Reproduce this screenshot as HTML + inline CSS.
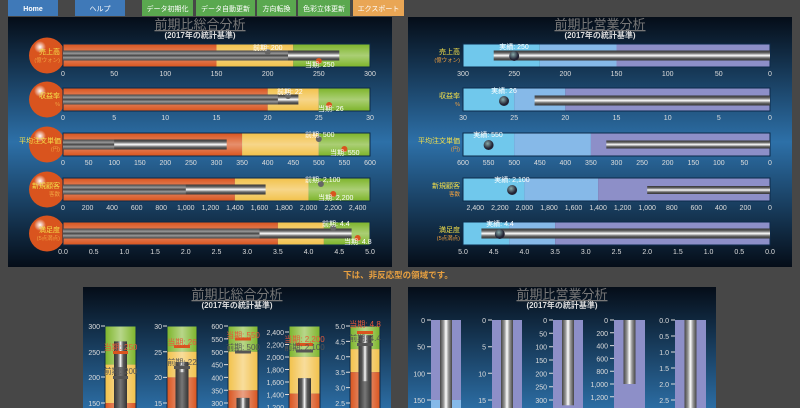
<!DOCTYPE html>
<html><head><meta charset="utf-8"><style>
html,body{margin:0;padding:0;background:#474747;width:800px;height:408px;overflow:hidden}
svg{display:block;font-family:"Liberation Sans","Noto Sans CJK JP",sans-serif}
</style></head><body>
<svg width="800" height="408" viewBox="0 0 800 408" xmlns="http://www.w3.org/2000/svg">
<defs>
<linearGradient id="pg" x1="0" y1="0" x2="0" y2="1"><stop offset="0" stop-color="#050d18"/><stop offset="0.5" stop-color="#2d70a8"/><stop offset="1" stop-color="#050d18"/></linearGradient>
<linearGradient id="pg2" gradientUnits="userSpaceOnUse" x1="0" y1="287" x2="0" y2="537"><stop offset="0" stop-color="#050d18"/><stop offset="0.5" stop-color="#2d70a8"/><stop offset="1" stop-color="#050d18"/></linearGradient>
<linearGradient id="gl" x1="0" y1="0" x2="0" y2="1"><stop offset="0" stop-color="#fff" stop-opacity="0"/><stop offset="0.5" stop-color="#fff" stop-opacity="0.35"/><stop offset="1" stop-color="#fff" stop-opacity="0"/></linearGradient>
<linearGradient id="glv" x1="0" y1="0" x2="1" y2="0"><stop offset="0" stop-color="#fff" stop-opacity="0"/><stop offset="0.5" stop-color="#fff" stop-opacity="0.45"/><stop offset="1" stop-color="#fff" stop-opacity="0"/></linearGradient>
<linearGradient id="td" x1="0" y1="0" x2="0" y2="1"><stop offset="0" stop-color="#444"/><stop offset="0.3" stop-color="#999"/><stop offset="0.5" stop-color="#444"/><stop offset="0.7" stop-color="#999"/><stop offset="1" stop-color="#444"/></linearGradient>
<linearGradient id="tw" x1="0" y1="0" x2="0" y2="1"><stop offset="0" stop-color="#333"/><stop offset="0.25" stop-color="#666"/><stop offset="0.5" stop-color="#fff"/><stop offset="0.75" stop-color="#666"/><stop offset="1" stop-color="#333"/></linearGradient>
<linearGradient id="tdv" x1="0" y1="0" x2="1" y2="0"><stop offset="0" stop-color="#333"/><stop offset="0.5" stop-color="#777"/><stop offset="1" stop-color="#333"/></linearGradient>
<linearGradient id="twv" x1="0" y1="0" x2="1" y2="0"><stop offset="0" stop-color="#444"/><stop offset="0.3" stop-color="#999"/><stop offset="0.5" stop-color="#fff"/><stop offset="0.7" stop-color="#999"/><stop offset="1" stop-color="#444"/></linearGradient>
<radialGradient id="hl"><stop offset="0" stop-color="#fff"/><stop offset="1" stop-color="#fff" stop-opacity="0"/></radialGradient>
<radialGradient id="ball" cx="0.4" cy="0.35"><stop offset="0" stop-color="#8aa"/><stop offset="1" stop-color="#223"/></radialGradient>
</defs>

<g font-size="7" fill="#fff" text-anchor="middle">
<rect x="8" y="0" width="50" height="16" fill="#3f79b8"/><text x="33" y="11" font-weight="bold">Home</text>
<rect x="75" y="0" width="50" height="16" fill="#3f79b8"/><text x="100" y="11">ヘルプ</text>
<rect x="142" y="0" width="51" height="16" fill="#5aa84f"/><text x="167.5" y="11">データ初期化</text>
<rect x="196" y="0" width="59" height="16" fill="#5aa84f"/><text x="225.5" y="11">データ自動更新</text>
<rect x="257" y="0" width="39" height="16" fill="#5aa84f"/><text x="276.5" y="11">方向転換</text>
<rect x="298" y="0" width="52" height="16" fill="#5aa84f"/><text x="324" y="11">色彩立体更新</text>
<rect x="353" y="0" width="51" height="16" fill="#e9a655"/><text x="378.5" y="11">エクスポート</text>
</g>

<rect x="8" y="17" width="384" height="250" fill="url(#pg)"/>
<rect x="408" y="17" width="384" height="250" fill="url(#pg)"/>
<rect x="83" y="287" width="308" height="121" fill="url(#pg2)"/>
<rect x="408" y="287" width="308" height="121" fill="url(#pg2)"/>

<g font-size="13" fill="#777" text-anchor="middle" text-decoration="underline">
<text x="200" y="29">前期比総合分析</text><text x="600" y="29">前期比営業分析</text>
<text x="237" y="299">前期比総合分析</text><text x="562" y="299">前期比営業分析</text></g>
<g font-size="8" fill="#ddd" text-anchor="middle" font-weight="bold">
<text x="200" y="38">(2017年の統計基準)</text><text x="600" y="38">(2017年の統計基準)</text>
<text x="237" y="308">(2017年の統計基準)</text><text x="562" y="308">(2017年の統計基準)</text></g>
<text x="398" y="278" font-size="8.5" fill="#e8a040" text-anchor="middle" font-weight="bold">下は、非反応型の領域です。</text>

<g font-size="7" fill="#ddd">
<g transform="translate(0,44)">
<circle cx="47" cy="11.5" r="18" fill="#d9541e"/><circle cx="40" cy="3" r="6" fill="url(#hl)"/>
<rect x="63" y="0" width="153.5" height="23" fill="#d9541e"/><rect x="216.5" y="0" width="76.8" height="23" fill="#f2c14a"/><rect x="293.3" y="0" width="76.7" height="23" fill="#7db52a"/>
<rect x="63" y="0" width="307" height="23" fill="url(#gl)" stroke="#0c2a4a" stroke-width="1"/>
<rect x="63" y="6.5" width="225" height="10" fill="url(#td)"/><rect x="288" y="6.5" width="51.3" height="10" fill="url(#tw)"/>
<circle cx="267.7" cy="8" r="3" fill="#666"/><text x="253" y="6" fill="#fff">前期: 200</text>
<circle cx="318.8" cy="17" r="3" fill="#d9541e"/><text x="305" y="23" fill="#fff">当期: 250</text>
<text x="60" y="10" fill="#f4e04a" text-anchor="end">売上高</text><text x="60" y="18" fill="#f0a040" font-size="5.5" text-anchor="end">(億ウォン)</text>
<g text-anchor="middle"><text x="63" y="32">0</text><text x="114.2" y="32">50</text><text x="165.3" y="32">100</text><text x="216.5" y="32">150</text><text x="267.7" y="32">200</text><text x="318.8" y="32">250</text><text x="370" y="32">300</text></g>
</g>
<g transform="translate(0,88)">
<circle cx="47" cy="11.5" r="18" fill="#d9541e"/><circle cx="40" cy="3" r="6" fill="url(#hl)"/>
<rect x="63" y="0" width="204.7" height="23" fill="#d9541e"/><rect x="267.7" y="0" width="51.1" height="23" fill="#f2c14a"/><rect x="318.8" y="0" width="51.2" height="23" fill="#7db52a"/>
<rect x="63" y="0" width="307" height="23" fill="url(#gl)" stroke="#0c2a4a" stroke-width="1"/>
<rect x="63" y="6.5" width="215" height="10" fill="url(#td)"/><rect x="277.9" y="6.5" width="20.5" height="10" fill="url(#tw)"/>
<circle cx="288.1" cy="8" r="3" fill="#666"/><text x="277" y="6" fill="#fff">前期: 22</text>
<circle cx="329.1" cy="17" r="3" fill="#d9541e"/><text x="318" y="23" fill="#fff">当期: 26</text>
<text x="60" y="10" fill="#f4e04a" text-anchor="end">収益率</text><text x="60" y="18" fill="#f0a040" font-size="5.5" text-anchor="end">%</text>
<g text-anchor="middle"><text x="63" y="32">0</text><text x="114.2" y="32">5</text><text x="165.3" y="32">10</text><text x="216.5" y="32">15</text><text x="267.7" y="32">20</text><text x="318.8" y="32">25</text><text x="370" y="32">30</text></g>
</g>
<g transform="translate(0,133)">
<circle cx="47" cy="11.5" r="18" fill="#d9541e"/><circle cx="40" cy="3" r="6" fill="url(#hl)"/>
<rect x="63" y="0" width="179.1" height="23" fill="#d9541e"/><rect x="242.1" y="0" width="76.7" height="23" fill="#f2c14a"/><rect x="318.8" y="0" width="51.2" height="23" fill="#7db52a"/>
<rect x="63" y="0" width="307" height="23" fill="url(#gl)" stroke="#0c2a4a" stroke-width="1"/>
<rect x="63" y="6.5" width="52" height="10" fill="url(#td)"/><rect x="114.2" y="6.5" width="112.5" height="10" fill="url(#tw)"/>
<circle cx="318.8" cy="6" r="3" fill="#666"/><text x="305" y="4" fill="#fff">前期: 500</text>
<circle cx="344.4" cy="16" r="3" fill="#d9541e"/><text x="330" y="22" fill="#fff">当期: 550</text>
<text x="61" y="10" fill="#f4e04a" text-anchor="end">平均注文単価</text><text x="60" y="18" fill="#f0a040" font-size="5.5" text-anchor="end">(円)</text>
<g text-anchor="middle"><text x="63" y="32">0</text><text x="88.6" y="32">50</text><text x="114.2" y="32">100</text><text x="139.8" y="32">150</text><text x="165.3" y="32">200</text><text x="190.9" y="32">250</text><text x="216.5" y="32">300</text><text x="242.1" y="32">350</text><text x="267.7" y="32">400</text><text x="293.3" y="32">450</text><text x="318.8" y="32">500</text><text x="344.4" y="32">550</text><text x="370" y="32">600</text></g>
</g>
<g transform="translate(0,178)">
<circle cx="47" cy="11.5" r="18" fill="#d9541e"/><circle cx="40" cy="3" r="6" fill="url(#hl)"/>
<rect x="63" y="0" width="171.9" height="23" fill="#d9541e"/><rect x="234.9" y="0" width="73.7" height="23" fill="#f2c14a"/><rect x="308.6" y="0" width="61.4" height="23" fill="#7db52a"/>
<rect x="63" y="0" width="307" height="23" fill="url(#gl)" stroke="#0c2a4a" stroke-width="1"/>
<rect x="63" y="6.5" width="123" height="10" fill="url(#td)"/><rect x="185.8" y="6.5" width="79.8" height="10" fill="url(#tw)"/>
<circle cx="320.9" cy="6" r="3" fill="#666"/><text x="305" y="4" fill="#fff">前期: 2,100</text>
<circle cx="333.2" cy="16" r="3" fill="#d9541e"/><text x="318" y="22" fill="#fff">当期: 2,200</text>
<text x="60" y="10" fill="#f4e04a" text-anchor="end">新規顧客</text><text x="60" y="18" fill="#f0a040" font-size="5.5" text-anchor="end">客数</text>
<g text-anchor="middle"><text x="63" y="32">0</text><text x="87.6" y="32">200</text><text x="112.1" y="32">400</text><text x="136.7" y="32">600</text><text x="161.2" y="32">800</text><text x="185.8" y="32">1,000</text><text x="210.4" y="32">1,200</text><text x="234.9" y="32">1,400</text><text x="259.5" y="32">1,600</text><text x="284" y="32">1,800</text><text x="308.6" y="32">2,000</text><text x="333.2" y="32">2,200</text><text x="357.7" y="32">2,400</text></g>
</g>
<g transform="translate(0,222)">
<circle cx="47" cy="11.5" r="18" fill="#d9541e"/><circle cx="40" cy="3" r="6" fill="url(#hl)"/>
<rect x="63" y="0" width="214.9" height="23" fill="#d9541e"/><rect x="277.9" y="0" width="46" height="23" fill="#f2c14a"/><rect x="323.9" y="0" width="46.1" height="23" fill="#7db52a"/>
<rect x="63" y="0" width="307" height="23" fill="url(#gl)" stroke="#0c2a4a" stroke-width="1"/>
<rect x="63" y="6.5" width="197" height="10" fill="url(#td)"/><rect x="259.5" y="6.5" width="92.1" height="10" fill="url(#tw)"/>
<circle cx="333.2" cy="6" r="3" fill="#666"/><text x="322" y="4" fill="#fff">前期: 4.4</text>
<circle cx="357.7" cy="16" r="3" fill="#d9541e"/><text x="344" y="22" fill="#fff">当期: 4.8</text>
<text x="60" y="10" fill="#f4e04a" text-anchor="end">満足度</text><text x="60" y="18" fill="#f0a040" font-size="5.5" text-anchor="end">(5点満点)</text>
<g text-anchor="middle"><text x="63" y="32">0.0</text><text x="93.7" y="32">0.5</text><text x="124.4" y="32">1.0</text><text x="155.1" y="32">1.5</text><text x="185.8" y="32">2.0</text><text x="216.5" y="32">2.5</text><text x="247.2" y="32">3.0</text><text x="277.9" y="32">3.5</text><text x="308.6" y="32">4.0</text><text x="339.3" y="32">4.5</text><text x="370" y="32">5.0</text></g>
</g>

<g transform="translate(0,44)">
<rect x="463" y="0" width="76.8" height="23" fill="#70c8ec"/><rect x="539.8" y="0" width="76.7" height="23" fill="#86b9e8"/><rect x="616.5" y="0" width="153.5" height="23" fill="#8d8fc8"/>
<rect x="463" y="0" width="307" height="23" fill="none" stroke="#0c2a4a" stroke-width="1"/>
<rect x="493.7" y="6.5" width="276.3" height="10" fill="url(#tw)"/>
<circle cx="514.2" cy="12" r="5" fill="url(#ball)"/><text x="514" y="5" fill="#fff" text-anchor="middle">実績: 250</text>
<text x="460" y="10" fill="#f4e04a" text-anchor="end">売上高</text><text x="460" y="18" fill="#f0a040" font-size="5.5" text-anchor="end">(億ウォン)</text>
<g text-anchor="middle"><text x="463" y="32">300</text><text x="514.2" y="32">250</text><text x="565.3" y="32">200</text><text x="616.5" y="32">150</text><text x="667.7" y="32">100</text><text x="718.8" y="32">50</text><text x="770" y="32">0</text></g>
</g>
<g transform="translate(0,88)">
<rect x="463" y="0" width="51.2" height="23" fill="#70c8ec"/><rect x="514.2" y="0" width="51.1" height="23" fill="#86b9e8"/><rect x="565.3" y="0" width="204.7" height="23" fill="#8d8fc8"/>
<rect x="463" y="0" width="307" height="23" fill="none" stroke="#0c2a4a" stroke-width="1"/>
<rect x="534.6" y="7.5" width="235.4" height="10" fill="url(#tw)"/>
<circle cx="504" cy="13" r="5" fill="url(#ball)"/><text x="504" y="5" fill="#fff" text-anchor="middle">実績: 26</text>
<text x="460" y="10" fill="#f4e04a" text-anchor="end">収益率</text><text x="460" y="18" fill="#f0a040" font-size="5.5" text-anchor="end">%</text>
<g text-anchor="middle"><text x="463" y="32">30</text><text x="514.2" y="32">25</text><text x="565.3" y="32">20</text><text x="616.5" y="32">15</text><text x="667.7" y="32">10</text><text x="718.8" y="32">5</text><text x="770" y="32">0</text></g>
</g>
<g transform="translate(0,133)">
<rect x="463" y="0" width="51.2" height="23" fill="#70c8ec"/><rect x="514.2" y="0" width="76.7" height="23" fill="#86b9e8"/><rect x="590.9" y="0" width="179.1" height="23" fill="#8d8fc8"/>
<rect x="463" y="0" width="307" height="23" fill="none" stroke="#0c2a4a" stroke-width="1"/>
<rect x="606.3" y="7.5" width="163.7" height="8" fill="url(#tw)"/>
<circle cx="488.6" cy="12" r="5" fill="url(#ball)"/><text x="488" y="4" fill="#fff" text-anchor="middle">実績: 550</text>
<text x="460" y="10" fill="#f4e04a" text-anchor="end">平均注文単価</text><text x="460" y="18" fill="#f0a040" font-size="5.5" text-anchor="end">(円)</text>
<g text-anchor="middle"><text x="463" y="32">600</text><text x="488.6" y="32">550</text><text x="514.2" y="32">500</text><text x="539.8" y="32">450</text><text x="565.3" y="32">400</text><text x="590.9" y="32">350</text><text x="616.5" y="32">300</text><text x="642.1" y="32">250</text><text x="667.7" y="32">200</text><text x="693.3" y="32">150</text><text x="718.8" y="32">100</text><text x="744.4" y="32">50</text><text x="770" y="32">0</text></g>
</g>
<g transform="translate(0,178)">
<rect x="463" y="0" width="61.4" height="23" fill="#70c8ec"/><rect x="524.4" y="0" width="73.7" height="23" fill="#86b9e8"/><rect x="598.1" y="0" width="171.9" height="23" fill="#8d8fc8"/>
<rect x="463" y="0" width="307" height="23" fill="none" stroke="#0c2a4a" stroke-width="1"/>
<rect x="647.2" y="8" width="122.8" height="8" fill="url(#tw)"/>
<circle cx="512.1" cy="12" r="5" fill="url(#ball)"/><text x="512" y="4" fill="#fff" text-anchor="middle">実績: 2,100</text>
<text x="460" y="10" fill="#f4e04a" text-anchor="end">新規顧客</text><text x="460" y="18" fill="#f0a040" font-size="5.5" text-anchor="end">客数</text>
<g text-anchor="middle"><text x="475.3" y="32">2,400</text><text x="499.9" y="32">2,200</text><text x="524.4" y="32">2,000</text><text x="549" y="32">1,800</text><text x="573.5" y="32">1,600</text><text x="598.1" y="32">1,400</text><text x="622.7" y="32">1,200</text><text x="647.2" y="32">1,000</text><text x="671.8" y="32">800</text><text x="696.3" y="32">600</text><text x="720.9" y="32">400</text><text x="745.4" y="32">200</text><text x="770" y="32">0</text></g>
</g>
<g transform="translate(0,222)">
<rect x="463" y="0" width="46.1" height="23" fill="#70c8ec"/><rect x="509.1" y="0" width="46" height="23" fill="#86b9e8"/><rect x="555.1" y="0" width="214.9" height="23" fill="#8d8fc8"/>
<rect x="463" y="0" width="307" height="23" fill="none" stroke="#0c2a4a" stroke-width="1"/>
<rect x="481.4" y="6.5" width="288.6" height="10" fill="url(#tw)"/>
<circle cx="499.8" cy="12" r="5" fill="url(#ball)"/><text x="500" y="4" fill="#fff" text-anchor="middle">実績: 4.4</text>
<text x="460" y="10" fill="#f4e04a" text-anchor="end">満足度</text><text x="460" y="18" fill="#f0a040" font-size="5.5" text-anchor="end">(5点満点)</text>
<g text-anchor="middle"><text x="463" y="32">5.0</text><text x="493.7" y="32">4.5</text><text x="524.4" y="32">4.0</text><text x="555.1" y="32">3.5</text><text x="585.8" y="32">3.0</text><text x="616.5" y="32">2.5</text><text x="647.2" y="32">2.0</text><text x="677.9" y="32">1.5</text><text x="708.6" y="32">1.0</text><text x="739.3" y="32">0.5</text><text x="770" y="32">0.0</text></g>
</g>
</g>

<g font-size="7" fill="#ddd" text-anchor="end">
<rect x="105" y="326" width="31" height="38.6" fill="#7db52a"/><rect x="105" y="364.6" width="31" height="38.4" fill="#f2c14a"/><rect x="105" y="403" width="31" height="10" fill="#d9541e"/>
<rect x="105" y="326" width="31" height="90" fill="url(#glv)" stroke="#0c2a4a"/>
<rect x="114" y="341.4" width="13" height="70" fill="url(#tdv)"/><rect x="117" y="341.4" width="7" height="25.6" fill="url(#twv)"/>
<rect x="113" y="351" width="15" height="3" fill="#d9541e"/><rect x="113" y="376" width="15" height="3" fill="#555"/>
<text x="120.5" y="350" fill="#e85a3a" text-anchor="middle" font-size="8">当期: 250</text><text x="120.5" y="374" fill="#555" text-anchor="middle" font-size="8">前期: 200</text>
<text x="100" y="329">300</text><text x="100" y="355">250</text><text x="100" y="380">200</text><text x="100" y="406">150</text>
<rect x="167" y="326" width="30" height="25.7" fill="#7db52a"/><rect x="167" y="351.7" width="30" height="25.7" fill="#f2c14a"/><rect x="167" y="377.4" width="30" height="35" fill="#d9541e"/>
<rect x="167" y="326" width="30" height="90" fill="url(#glv)" stroke="#0c2a4a"/>
<rect x="175.5" y="361.9" width="13" height="50" fill="url(#tdv)"/><rect x="178.5" y="361.9" width="7" height="10.3" fill="url(#twv)"/>
<rect x="174" y="345" width="16" height="3" fill="#d9541e"/><rect x="174" y="366" width="16" height="3" fill="#555"/>
<text x="182" y="345" fill="#e85a3a" text-anchor="middle" font-size="8">当期: 26</text><text x="182" y="365" fill="#555" text-anchor="middle" font-size="8">前期: 22</text>
<text x="162" y="329">30</text><text x="162" y="355">25</text><text x="162" y="380">20</text><text x="162" y="406">15</text>
<rect x="228" y="326" width="30" height="25.7" fill="#7db52a"/><rect x="228" y="351.7" width="30" height="38.6" fill="#f2c14a"/><rect x="228" y="390.3" width="30" height="22" fill="#d9541e"/>
<rect x="228" y="326" width="30" height="90" fill="url(#glv)" stroke="#0c2a4a"/>
<rect x="236.5" y="397.9" width="13" height="15" fill="url(#tdv)"/><rect x="239.5" y="397.9" width="7" height="15" fill="url(#twv)"/>
<rect x="235" y="337.5" width="16" height="3" fill="#d9541e"/><rect x="235" y="350.5" width="16" height="3" fill="#555"/>
<text x="243" y="338" fill="#e85a3a" text-anchor="middle" font-size="8">当期: 550</text><text x="243" y="350" fill="#555" text-anchor="middle" font-size="8">前期: 500</text>
<text x="223" y="329">600</text><text x="223" y="342">550</text><text x="223" y="355">500</text><text x="223" y="367.6">450</text><text x="223" y="380.4">400</text><text x="223" y="393.3">350</text><text x="223" y="406">300</text>
<rect x="289" y="326" width="31" height="30.8" fill="#7db52a"/><rect x="289" y="356.8" width="31" height="36.8" fill="#f2c14a"/><rect x="289" y="393.6" width="31" height="20" fill="#d9541e"/>
<rect x="289" y="326" width="31" height="90" fill="url(#glv)" stroke="#0c2a4a"/>
<rect x="298" y="378.2" width="13" height="35" fill="url(#tdv)"/><rect x="301" y="378.2" width="7" height="35" fill="url(#twv)"/>
<rect x="296" y="343" width="17" height="3" fill="#d9541e"/><rect x="296" y="349.5" width="17" height="3" fill="#555"/>
<text x="304.5" y="342" fill="#e85a3a" text-anchor="middle" font-size="8">当期: 2,200</text><text x="304.5" y="350" fill="#555" text-anchor="middle" font-size="8">前期: 2,100</text>
<text x="284" y="335">2,400</text><text x="284" y="347.5">2,200</text><text x="284" y="360">2,000</text><text x="284" y="372.5">1,800</text><text x="284" y="385">1,600</text><text x="284" y="397.5">1,400</text><text x="284" y="410">1,200</text>
<rect x="350" y="326" width="30" height="23.1" fill="#7db52a"/><rect x="350" y="349.1" width="30" height="23.1" fill="#f2c14a"/><rect x="350" y="372.2" width="30" height="40" fill="#d9541e"/>
<rect x="350" y="326" width="30" height="90" fill="url(#glv)" stroke="#0c2a4a"/>
<rect x="358.5" y="335.2" width="13" height="80" fill="url(#tdv)"/><rect x="361.5" y="335.2" width="7" height="46" fill="url(#twv)"/>
<rect x="357" y="331" width="16" height="3" fill="#d9541e"/><rect x="357" y="343" width="16" height="3" fill="#555"/>
<text x="365" y="327" fill="#e85a3a" text-anchor="middle" font-size="8">当期: 4.8</text><text x="365" y="341" fill="#555" text-anchor="middle" font-size="8">前期: 4.4</text>
<text x="345" y="329">5.0</text><text x="345" y="344.4">4.5</text><text x="345" y="359.8">4.0</text><text x="345" y="375.2">3.5</text><text x="345" y="390.6">3.0</text><text x="345" y="406">2.5</text>
</g>
<g stroke="#ddd" stroke-width="1">
<path d="M101 326h4M101 352h4M101 377h4M101 403h4M163 326h4M163 351.7h4M163 377.4h4M163 403h4M224 326h4M224 338.9h4M224 351.7h4M224 364.6h4M224 377.4h4M224 390.3h4M224 403h4M285 332h4M285 344.5h4M285 357h4M285 369.5h4M285 382h4M285 394.5h4M346 326h4M346 341.4h4M346 356.8h4M346 372.2h4M346 387.6h4M346 403h4"/>
</g>

<g font-size="7" fill="#ddd" text-anchor="end">
<rect x="431" y="320" width="30" height="80" fill="#8d8fc8"/><rect x="431" y="400" width="30" height="10" fill="#86b9e8"/>
<rect x="440" y="320" width="12" height="90" fill="url(#twv)"/>
<rect x="492" y="320" width="30" height="90" fill="#8d8fc8"/><rect x="501" y="320" width="12" height="90" fill="url(#twv)"/>
<rect x="553" y="320" width="30" height="90" fill="#8d8fc8"/><rect x="562" y="320" width="12" height="85.3" fill="url(#twv)"/>
<rect x="614" y="320" width="31" height="90" fill="#8d8fc8"/><rect x="623.5" y="320" width="12" height="64" fill="url(#twv)"/>
<rect x="675" y="320" width="31" height="90" fill="#8d8fc8"/><rect x="684.5" y="320" width="12" height="90" fill="url(#twv)"/>
<text x="425" y="323">0</text><text x="425" y="349.7">50</text><text x="425" y="376.3">100</text><text x="425" y="403">150</text>
<text x="486" y="323">0</text><text x="486" y="349.7">5</text><text x="486" y="376.3">10</text><text x="486" y="403">15</text>
<text x="547" y="323">0</text><text x="547" y="336.3">50</text><text x="547" y="349.7">100</text><text x="547" y="363">150</text><text x="547" y="376.3">200</text><text x="547" y="389.7">250</text><text x="547" y="403">300</text>
<text x="608" y="323">0</text><text x="608" y="335.8">200</text><text x="608" y="348.6">400</text><text x="608" y="361.4">600</text><text x="608" y="374.2">800</text><text x="608" y="387">1,000</text><text x="608" y="399.8">1,200</text>
<text x="669" y="323">0.0</text><text x="669" y="339">0.5</text><text x="669" y="355">1.0</text><text x="669" y="371">1.5</text><text x="669" y="387">2.0</text><text x="669" y="403">2.5</text>
</g>
<g stroke="#ddd" stroke-width="1">
<path d="M427 320h4M427 346.7h4M427 373.3h4M427 400h4M488 320h4M488 346.7h4M488 373.3h4M488 400h4M549 320h4M549 333.3h4M549 346.7h4M549 360h4M549 373.3h4M549 386.7h4M549 400h4M610 320h4M610 332.8h4M610 345.6h4M610 358.4h4M610 371.2h4M610 384h4M610 396.8h4M671 320h4M671 336h4M671 352h4M671 368h4M671 384h4M671 400h4"/>
</g>
</svg>
</body></html>
